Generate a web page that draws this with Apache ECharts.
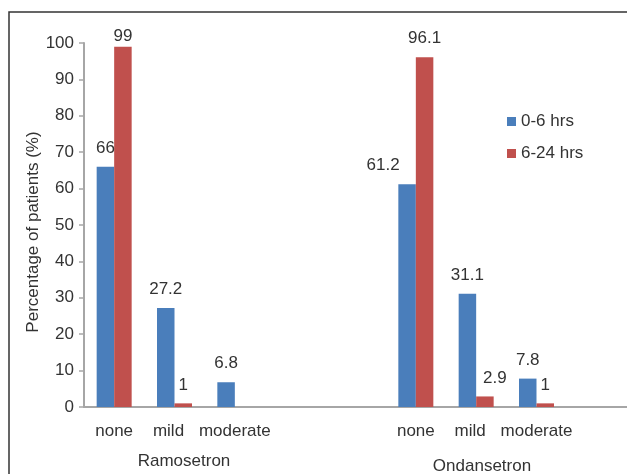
<!DOCTYPE html>
<html>
<head>
<meta charset="utf-8">
<script src="https://cdn.jsdelivr.net/npm/echarts@6/dist/echarts.min.js"></script>
<style>
html,body{margin:0;padding:0;background:#fff;}
#chart{width:627px;height:474px;}
</style>
</head>
<body>
<div id="chart"></div>
<script>
// ---- data ----
var categories = ['none', 'mild', 'moderate', '', '', 'none', 'mild', 'moderate', ''];
var groupLabels = ['Ramosetron', 'Ondansetron'];
var seriesNames = ['0-6 hrs', '6-24 hrs'];
var hrs0to6 = [66, 27.2, 6.8, null, null, 61.2, 31.1, 7.8, null];
var hrs6to24 = [99, 1, null, null, null, 96.1, 2.9, 1, null];
var yTicks = { min: 0, max: 100, interval: 10 };
var yTitle = 'Percentage of patients (%)';

// ---- styling ----
var FONT = 'Liberation Sans, Arial, sans-serif';
var TXT = '#333333';
var AXIS = '#a6a6a6';
var BLUE = '#4a7ebb';
var RED = '#c0504d';

// per-point label tweaks (style only)
var labelTweaks0 = { 5: { offset: [-24, 0] } };
var labelTweaks1 = { 0: { distance: 2 }, 6: { offset: [10, 0] } };

function buildData(values, tweaks) {
  return values.map(function (v, i) {
    if (v === null) return { value: null, label: { show: false } };
    var item = { value: v };
    if (tweaks[i]) item.label = tweaks[i];
    return item;
  });
}

var chart = echarts.init(document.getElementById('chart'), null, { renderer: 'canvas' });

var option = {
  backgroundColor: '#ffffff',
  animation: false,
  textStyle: { fontFamily: FONT },
  grid: { left: 84, right: 0, top: 43, bottom: 67, containLabel: false, outerBoundsMode: 'none' },
  legend: {
    orient: 'vertical',
    left: 507,
    top: 113,
    padding: 0,
    itemWidth: 9,
    itemHeight: 9,
    itemGap: 15,
    icon: 'rect',
    textStyle: { fontSize: 17, color: TXT, fontFamily: FONT },
    data: seriesNames
  },
  xAxis: {
    type: 'category',
    data: categories.map(function (c) {
      return c === 'mild' ? { value: c, textStyle: { padding: [0, 12, 0, 0] } } : c;
    }),
    axisLine: { show: true, lineStyle: { color: AXIS, width: 2 } },
    axisTick: { show: false },
    axisLabel: { interval: 0, margin: 16, fontSize: 17, color: TXT, fontFamily: FONT },
    splitLine: { show: false }
  },
  yAxis: {
    type: 'value',
    min: yTicks.min,
    max: yTicks.max,
    interval: yTicks.interval,
    name: yTitle,
    nameLocation: 'middle',
    nameGap: 42,
    nameMoveOverlap: false,
    nameTextStyle: { fontSize: 17, color: TXT, fontFamily: FONT, padding: [0, 14, 0, 0] },
    axisLine: { show: true, lineStyle: { color: AXIS, width: 2 } },
    axisTick: { show: true, length: 5, lineStyle: { color: AXIS, width: 1.5 } },
    axisLabel: { margin: 10, fontSize: 17, color: TXT, fontFamily: FONT },
    splitLine: { show: false }
  },
  series: [
    {
      name: seriesNames[0],
      type: 'bar',
      barWidth: 17.5,
      barGap: '0%',
      itemStyle: { color: BLUE },
      label: { show: true, position: 'top', distance: 10, fontSize: 17, color: TXT, fontFamily: FONT },
      data: buildData(hrs0to6, labelTweaks0)
    },
    {
      name: seriesNames[1],
      type: 'bar',
      barWidth: 17.5,
      barGap: '0%',
      itemStyle: { color: RED },
      label: { show: true, position: 'top', distance: 10, fontSize: 17, color: TXT, fontFamily: FONT },
      data: buildData(hrs6to24, labelTweaks1)
    }
  ],
  graphic: [
    {
      type: 'rect',
      z: -10,
      silent: true,
      shape: { x: 9, y: 12, width: 700, height: 600 },
      style: { fill: null, stroke: '#333333', lineWidth: 1.5 }
    },
    {
      type: 'text',
      x: 184, y: 461,
      style: { text: groupLabels[0], fontSize: 17, fill: TXT, fontFamily: FONT, textAlign: 'center', textVerticalAlign: 'middle' }
    },
    {
      type: 'text',
      x: 482, y: 466,
      style: { text: groupLabels[1], fontSize: 17, fill: TXT, fontFamily: FONT, textAlign: 'center', textVerticalAlign: 'middle' }
    }
  ]
};

chart.setOption(option);
</script>
</body>
</html>
